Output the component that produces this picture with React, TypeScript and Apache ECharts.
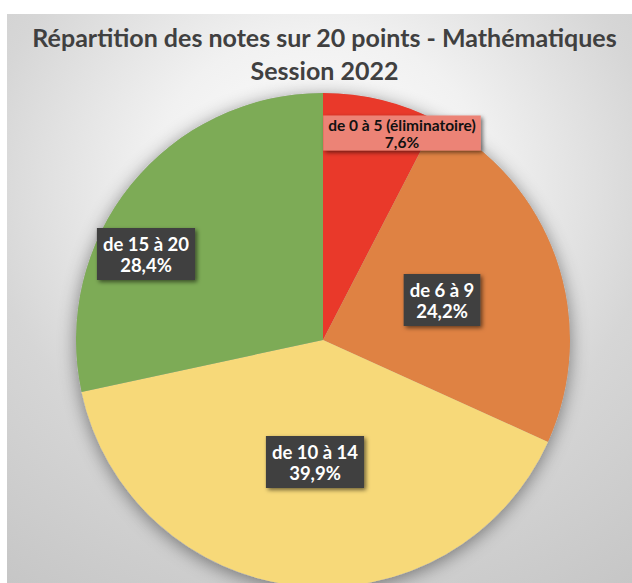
import React, { useEffect, useRef } from "react";
import * as echarts from "echarts";

const titleLines = ["Répartition des notes sur 20 points - Mathématiques", "Session 2022"];
const categories = ["de 0 à 5 (éliminatoire)", "de 6 à 9", "de 10 à 14", "de 15 à 20"];
const values = [7.6, 24.2, 39.9, 28.4];
const colors = ["#e9392a", "#df8243", "#f7d979", "#7dab56"];

// label box centres (layout only)
const labelCenters = [
  [402, 133],
  [442, 300],
  [315, 462],
  [146, 254],
];

const fmt = (v: number) => v.toFixed(1).replace(".", ",") + "%";

export default function App() {
  const ref = useRef<HTMLDivElement>(null);
  useEffect(() => {
    document.body.style.margin = "0";
    const chart = echarts.init(ref.current!, undefined, { renderer: "svg" });
    const darkLabel = {
      show: true,
      color: "#ffffff",
      fontFamily: "Lato",
      fontWeight: "bold",
      fontSize: 18.5,
      lineHeight: 21,
      backgroundColor: "#404040",
      padding: [5, 6, 5, 6],
      shadowColor: "rgba(0,0,0,0.55)",
      shadowBlur: 4,
      shadowOffsetX: 2,
      shadowOffsetY: 2,
    };
    const redLabel = {
      ...darkLabel,
      color: "#111111",
      fontSize: 15.5,
      lineHeight: 17,
      backgroundColor: "#ec8376",
      padding: [1, 5, 0, 5],
    };
    chart.setOption({
      animation: false,
      graphic: [
        {
          type: "rect",
          z: -10,
          silent: true,
          shape: { x: 7, y: 14, width: 625, height: 569 },
          style: {
            fill: {
              type: "radial",
              x: 0.5,
              y: 0.3,
              r: 0.9,
              colorStops: [
                { offset: 0, color: "#ffffff" },
                { offset: 0.3, color: "#f1f1f1" },
                { offset: 0.6, color: "#d6d6d6" },
                { offset: 1, color: "#c4c4c4" },
              ],
            },
          },
        },
      ],
      title: {
        text: titleLines.join("\n"),
        left: 319.5,
        textAlign: "center",
        top: 15,
        textStyle: {
          fontFamily: "Lato",
          fontWeight: "bold",
          fontSize: 25,
          lineHeight: 33,
          color: "#404040",
        },
      },
      series: [
        {
          type: "pie",
          silent: true,
          center: [323, 340],
          radius: 247,
          z: 1,
          label: { show: false },
          labelLine: { show: false },
          itemStyle: {
            color: "#b0b0b0",
            shadowColor: "rgba(0,0,0,0.45)",
            shadowBlur: 18,
            shadowOffsetY: 3,
          },
          data: [{ value: 1, name: "" }],
        },
        {
          type: "pie",
          center: [323, 340],
          radius: 247,
          z: 2,
          startAngle: 90,
          clockwise: true,
          labelLine: { show: false },
          label: {
            position: "inside",
            formatter: (p: any) => p.name + "\n" + fmt(p.value),
          },
          labelLayout: (p: any) => ({
            x: labelCenters[p.dataIndex][0],
            y: labelCenters[p.dataIndex][1],
            align: "center",
            verticalAlign: "middle",
          }),
          data: categories.map((c, i) => ({
            name: c,
            value: values[i],
            itemStyle: { color: colors[i] },
            label: i === 0 ? redLabel : darkLabel,
          })),
        },
      ],
    });
    return () => chart.dispose();
  }, []);
  return <div ref={ref} style={{ width: 632, height: 583 }} />;
}
